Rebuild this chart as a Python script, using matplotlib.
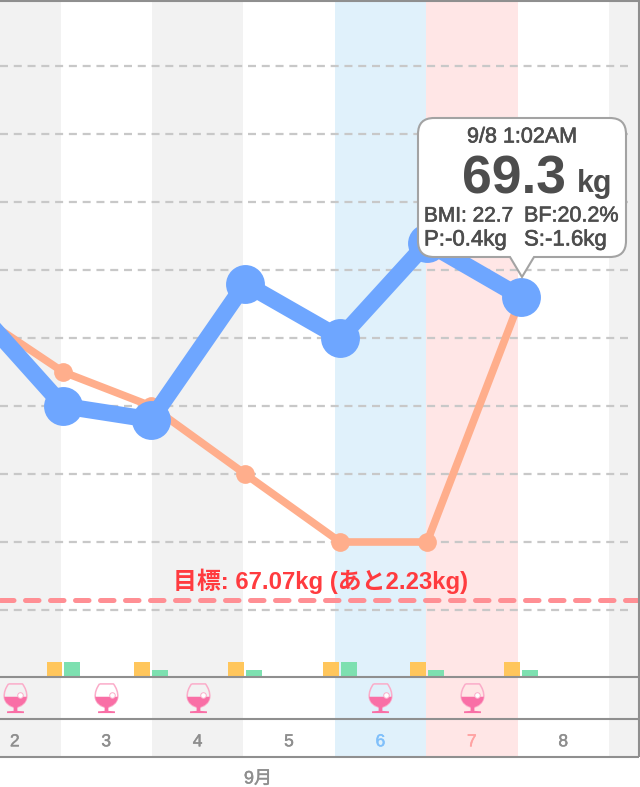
import matplotlib
matplotlib.use("Agg")
import matplotlib.pyplot as plt
import matplotlib.patheffects as pe
from matplotlib.path import Path
from matplotlib.patches import PathPatch

FONT = ['Liberation Sans', 'Noto Sans CJK JP']
plt.rcParams['font.family'] = FONT

W, H = 640, 787
days = [2, 3, 4, 5, 6, 7, 8, 9]
day_labels = ['2', '3', '4', '5', '6', '7', '8']
day_bg = ['#f2f2f2', '#ffffff', '#f2f2f2', '#ffffff', '#e0f1fb', '#ffe6e6', '#ffffff', '#f2f2f2']
day_fg = ['#8e8e8e', '#8e8e8e', '#8e8e8e', '#8e8e8e', '#80c0fa', '#ffa3a3', '#8e8e8e']

weight_x = [2.03, 3.03, 3.99, 5.02, 6.06, 7.01, 8.04]
weight_y = [69.25, 68.5, 68.4, 69.4, 69.0, 69.7, 69.3]
trend_x = [2.03, 3.03, 3.99, 5.02, 6.06, 7.01, 8.04]
trend_y = [69.2, 68.75, 68.5, 68.0, 67.5, 67.5, 69.3]
goal = 67.07
grid_levels = [67.0, 67.5, 68.0, 68.5, 69.0, 69.5, 70.0, 70.5, 71.0]

bar_x = [3.03, 3.99, 5.02, 6.06, 7.01, 8.04]
bar_orange = [2, 2, 2, 2, 2, 2]
bar_green = [2, 1, 1, 2, 1, 1]
wine_days = [2, 3, 4, 6, 7]

XLIM = (3 - 60.5 / 91.4, 3 + (W - 60.5) / 91.4)

def make_ax(top, bottom, **kw):
    ax = fig.add_axes([0, 1 - bottom / H, 1, (bottom - top) / H], **kw)
    ax.set_xlim(*XLIM)
    ax.axis('off')
    return ax

def medium(color, w=0.45):
    return [pe.withStroke(linewidth=w, foreground=color)]

fig = plt.figure(figsize=(W / 100, H / 100), dpi=100, facecolor='white')

# day stripes
bg = make_ax(0, 757)
bg.set_ylim(0, 1)
for d, c in zip(days, day_bg):
    bg.axvspan(d, d + 1, color=c, lw=0)

# main weight plot
ax = make_ax(0, 677)
ax.set_ylim(67 - 67 / 136, 67 + 610 / 136)
ax.set_xlim(*XLIM)
ax.hlines(grid_levels, XLIM[0], 9.25, colors='#c8c8c8', lw=1.6, linestyles=[(0, (3.6, 2.6))], zorder=1)
ax.axhline(goal, color='#ff8f94', lw=3.6, dashes=(2.7, 2.3), dash_capstyle='round', zorder=2)
ax.plot(trend_x, trend_y, color='#ffae8c', lw=5.5, marker='o', ms=13.5, mfc='#ffae8c', mec='none', zorder=3)
ax.plot(weight_x, weight_y, color='#6ea6ff', lw=12, marker='o', ms=28, mec='none',
        solid_joinstyle='round', zorder=4)

# activity bars
bax = make_ax(647, 677)
bax.set_ylim(0, 4)
w = 0.172
bax.bar([x - 0.097 for x in bar_x], bar_orange, width=w, color='#ffc65c', lw=0)
bax.bar([x + 0.097 for x in bar_x], bar_green, width=w, color='#7de0b0', lw=0)

# wine strip
wax = make_ax(677, 719)
wax.set_ylim(0, 1)
M, L4, C4 = Path.MOVETO, Path.LINETO, Path.CURVE4
outline = Path([(-0.48, 1), (0.48, 1),
                (0.68, 0.72), (0.8, 0.42), (0.77, 0.1),
                (0.74, -0.3), (0.35, -0.6), (0.0, -0.6),
                (-0.35, -0.6), (-0.74, -0.3), (-0.77, 0.1),
                (-0.8, 0.42), (-0.68, 0.72), (-0.48, 1)],
               [M, L4, C4, C4, C4, C4, C4, C4, C4, C4, C4, C4, C4, C4])
wine = Path([(-0.77, 0.12), (0.77, 0.12),
             (0.74, -0.3), (0.4, -0.5), (0.13, -0.58),
             (0.13, -0.85), (0.58, -0.88), (0.58, -1), (-0.58, -1), (-0.58, -0.88), (-0.13, -0.85),
             (-0.13, -0.58), (-0.4, -0.5), (-0.74, -0.3), (-0.77, 0.12)],
            [M, L4, C4, C4, C4, L4, L4, L4, L4, L4, L4, L4, C4, C4, C4])
wx = [d + 0.5 for d in wine_days]
wy = [0.5 for _ in wine_days]
ms_wine = 21
wax.plot(wx, wy, ls='none', marker=outline, ms=ms_wine, mfc='none', mec='#fbacc9', mew=1.1)
wax.plot(wx, wy, ls='none', marker=wine, ms=ms_wine, mfc='#f96fa6', mec='none')
wax.plot([x + 0.06 for x in wx], [0.56 for _ in wx], ls='none', marker='o', ms=4, mfc='white', mec='#fbacc9', mew=0.7)

# day labels
dax = make_ax(719, 757)
dax.set_ylim(0, 1)
for d, s, c in zip(days, day_labels, day_fg):
    dax.text(d + 0.5, 0.40, s, color=c, ha='center', va='center', fontsize=12.5, path_effects=medium(c, 0.35))

# overlay in pixels
ov = fig.add_axes([0, 0, 1, 1])
ov.set_xlim(0, W)
ov.set_ylim(H, 0)
ov.axis('off')
for y in (0.5, 677, 719, 757):
    ov.plot([0, 639], [y, y], color='#8f8f8f', lw=1.5, solid_capstyle='butt')
ov.plot([639, 639], [0, 757], color='#8f8f8f', lw=1.5, solid_capstyle='butt')

ov.text(321, 581, '目標: 67.07kg (あと2.23kg)', color='#ff3b3f', fontsize=17.2, fontweight='bold',
        ha='center', va='center')
ov.text(258, 779, '9月', color='#8e8e8e', fontsize=13, ha='center', va='center', path_effects=medium('#8e8e8e', 0.35))

# tooltip
L, R, T, B, r = 418, 626, 118, 257, 16
C = Path.CURVE3
verts = [(L + r, T), (R - r, T), (R, T), (R, T + r), (R, B - r), (R, B), (R - r, B),
         (534, B), (522, 277), (510, B), (L + r, B), (L, B), (L, B - r), (L, T + r), (L, T), (L + r, T)]
codes = [Path.MOVETO, Path.LINETO, C, C, Path.LINETO, C, C, Path.LINETO, Path.LINETO, Path.LINETO,
         Path.LINETO, C, C, Path.LINETO, C, C]
ov.add_patch(PathPatch(Path(verts, codes), fc='white', ec='#a3a3a3', lw=1.5, zorder=5))
tc = '#4d4d4d'
fx = medium(tc)
ov.text(522, 137, '9/8 1:02AM', color=tc, fontsize=15.5, ha='center', va='center', zorder=6, path_effects=fx)
ov.text(513.5, 180, '69.3', color=tc, fontsize=38.5, fontweight='bold', ha='center', va='center', zorder=6)
ov.text(595, 184, 'kg', color=tc, fontsize=22, fontweight='bold', ha='center', va='center', zorder=6)
ov.text(424, 216, 'BMI: 22.7', color=tc, fontsize=15, ha='left', va='center', zorder=6, path_effects=fx)
ov.text(524, 216, 'BF:20.2%', color=tc, fontsize=15.5, ha='left', va='center', zorder=6, path_effects=fx)
ov.text(424, 240, 'P:-0.4kg', color=tc, fontsize=16, ha='left', va='center', zorder=6, path_effects=fx)
ov.text(524, 240, 'S:-1.6kg', color=tc, fontsize=16, ha='left', va='center', zorder=6, path_effects=fx)

fig.savefig('out.png', dpi=100)
